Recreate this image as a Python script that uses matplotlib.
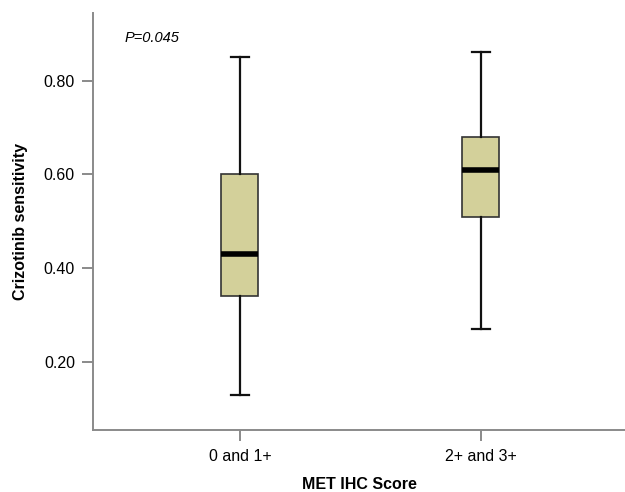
import matplotlib
matplotlib.use("Agg")
import matplotlib.pyplot as plt

# values
groups = ["0 and 1+", "2+ and 3+"]
whislo = [0.13, 0.27]
q1 = [0.34, 0.51]
med = [0.43, 0.61]
q3 = [0.60, 0.68]
whishi = [0.85, 0.86]
yticks = [0.20, 0.40, 0.60, 0.80]

plt.rcParams.update({"font.family": "Liberation Sans"})
BOX = "#d3d09a"; AX = "#8a8a8a"

stats = [dict(label=g, whislo=a, q1=b, med=c, q3=d, whishi=e, fliers=[])
         for g, a, b, c, d, e in zip(groups, whislo, q1, med, q3, whishi)]

fig = plt.figure(figsize=(6.25, 4.92), dpi=100)
ax = fig.add_axes([93 / 625, 1 - 430 / 492, 1 - 93 / 625, (430 - 13) / 492])
ax.bxp(stats, positions=[1, 2], widths=0.155, patch_artist=True, showfliers=False,
       boxprops=dict(facecolor=BOX, edgecolor="#333333", lw=1.2),
       medianprops=dict(color="black", lw=4, solid_capstyle="butt"),
       whiskerprops=dict(color="#111111", lw=1.6),
       capprops=dict(color="#111111", lw=1.6), capwidths=0.075)

ax.set_xlim(0.39, 2.6)
ax.set_ylim(0.055, 0.944)
ax.set_yticks(yticks)
ax.set_yticklabels([f"{v:.2f}" for v in yticks])
ax.set_xticks([1, 2]); ax.set_xticklabels(groups)
for s in ["top", "right"]:
    ax.spines[s].set_visible(False)
for s in ["left", "bottom"]:
    ax.spines[s].set_color(AX); ax.spines[s].set_linewidth(1.4)
ax.tick_params(colors=AX, labelcolor="black", labelsize=11.5, length=8, width=1.4, pad=5)
ax.tick_params(axis="x", pad=6)

ax.set_ylabel("Crizotinib sensitivity", fontsize=11.5, fontweight="bold", labelpad=11)
ax.set_xlabel("MET IHC Score", fontsize=11.5, fontweight="bold", labelpad=9)
ax.text(0.06, 0.94, "P=0.045", transform=ax.transAxes, style="italic", fontsize=10.5,
        va="center")

fig.savefig("out.png", dpi=100)
